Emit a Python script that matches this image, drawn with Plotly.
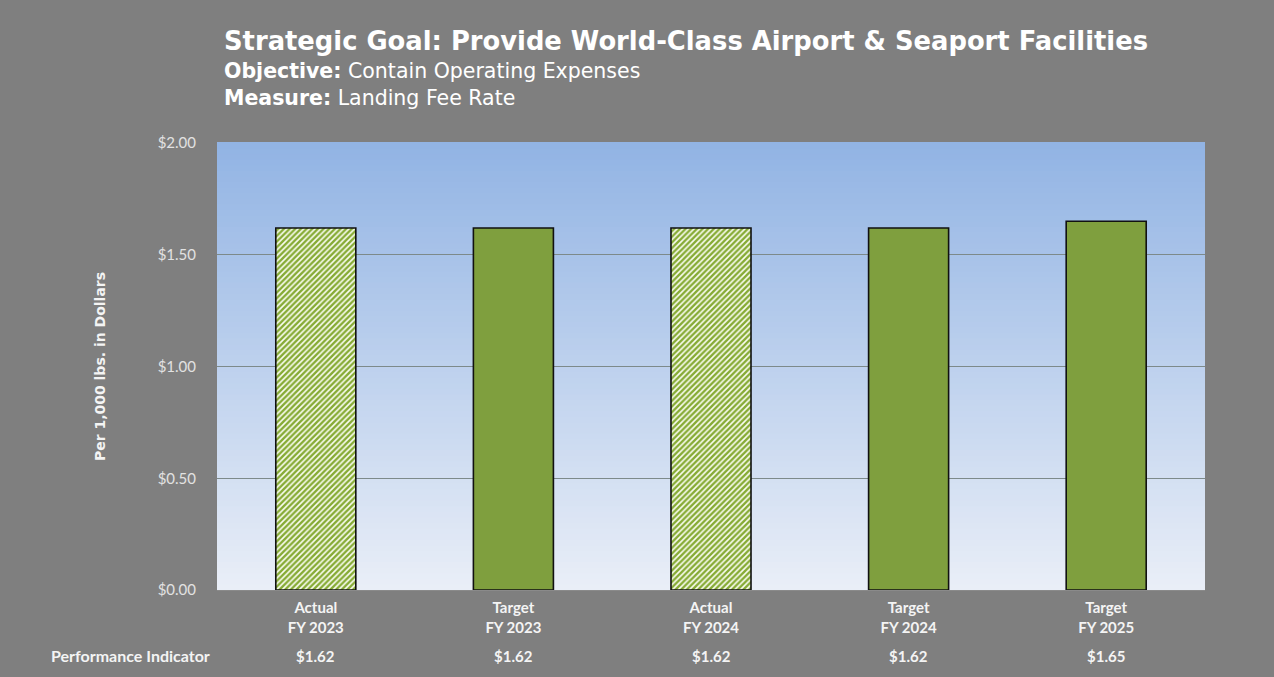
import plotly.graph_objects as go

# Landing fee rate per 1,000 lbs.
categories = ["Actual<br>FY 2023", "Target<br>FY 2023", "Actual<br>FY 2024",
              "Target<br>FY 2024", "Target<br>FY 2025"]
values = [1.62, 1.62, 1.62, 1.62, 1.65]
is_actual = [True, False, True, False, False]
y_ticks = [0.0, 0.5, 1.0, 1.5, 2.0]
y_tick_text = [f"${v:.2f}" for v in y_ticks]

GREEN = "#7f9f3e"
HATCH = "#86ab34"
BG = "#7f7f7f"

actual_x = [c for c, a in zip(categories, is_actual) if a]
actual_y = [v for v, a in zip(values, is_actual) if a]
target_x = [c for c, a in zip(categories, is_actual) if not a]
target_y = [v for v, a in zip(values, is_actual) if not a]

fig = go.Figure()

# actual results: hatched bars
fig.add_trace(go.Bar(
    x=actual_x, y=actual_y, width=0.405,
    marker=dict(
        color="#fbfdf3",
        line=dict(color="#111111", width=1.6),
        pattern=dict(shape="/", fillmode="overlay", fgcolor=HATCH,
                     fgopacity=1, size=4, solidity=0.6),
    ),
    hoverinfo="skip",
))

# targets: solid bars
fig.add_trace(go.Bar(
    x=target_x, y=target_y, width=0.405,
    marker=dict(color=GREEN, line=dict(color="#111111", width=1.6)),
    hoverinfo="skip",
))

# vertical gradient for the plotting area (blue at top fading to pale)
steps = 80
top = (146, 180, 228)
bottom = (233, 238, 247)
shapes = []
for i in range(steps):
    t = i / (steps - 1)
    r = round(bottom[0] + (top[0] - bottom[0]) * t)
    g = round(bottom[1] + (top[1] - bottom[1]) * t)
    b = round(bottom[2] + (top[2] - bottom[2]) * t)
    shapes.append(dict(
        type="rect", xref="paper", yref="paper",
        x0=0, x1=1, y0=i / steps, y1=(i + 1) / steps + 0.002,
        fillcolor=f"rgb({r},{g},{b})", line=dict(width=0), layer="below",
    ))

annotations = [
    dict(text="<b>Strategic Goal: Provide World-Class Airport &amp; Seaport Facilities</b>",
         xref="paper", yref="paper", x=0.005, y=1.228, xanchor="left", yanchor="middle",
         showarrow=False, font=dict(family="DejaVu Sans", size=25.8, color="#ffffff")),
    dict(text="<b>Objective:</b> Contain Operating Expenses",
         xref="paper", yref="paper", x=0.005, y=1.161, xanchor="left", yanchor="middle",
         showarrow=False, font=dict(family="DejaVu Sans", size=20.5, color="#ffffff")),
    dict(text="<b>Measure:</b> Landing Fee Rate",
         xref="paper", yref="paper", x=0.005, y=1.100, xanchor="left", yanchor="middle",
         showarrow=False, font=dict(family="DejaVu Sans", size=20.5, color="#ffffff")),
    dict(text="<b>Performance Indicator</b>",
         xref="paper", yref="paper", x=-0.005, y=-0.147, xanchor="right", yanchor="middle",
         showarrow=False, font=dict(family="Lato", size=16, color="#f4f4f4")),
]
for c, v in zip(categories, values):
    annotations.append(dict(
        text=f"<b>${v:.2f}</b>", x=c, xref="x", yref="paper", y=-0.147,
        xanchor="center", yanchor="middle", showarrow=False,
        font=dict(family="Lato", size=15, color="#f4f4f4"),
    ))

fig.update_layout(
    width=1274, height=677,
    margin=dict(l=217, r=69, t=143, b=87),
    paper_bgcolor=BG,
    plot_bgcolor="rgba(0,0,0,0)",
    showlegend=False,
    shapes=shapes,
    annotations=annotations,
    barmode="overlay",
)

fig.update_xaxes(
    categoryorder="array", categoryarray=categories,
    tickfont=dict(family="Lato", size=15, color="#f4f4f4", weight="bold"),
    showgrid=False, showline=True, linecolor="#8a8a8a", linewidth=1,
    ticks="", ticklabelstandoff=4,
)
fig.update_yaxes(
    range=[0, 2.0], tickvals=y_ticks, ticktext=y_tick_text,
    tickfont=dict(family="Lato", size=15, color="#e2e2e2"),
    showgrid=True, gridcolor="#7d8a8a", gridwidth=1,
    zeroline=False, ticks="", ticklabelstandoff=20,
    title=dict(text="<b>Per 1,000 lbs. in Dollars</b>",
               font=dict(family="DejaVu Sans", size=14, color="#f4f4f4"), standoff=48),
)

fig.write_html("out.html")
